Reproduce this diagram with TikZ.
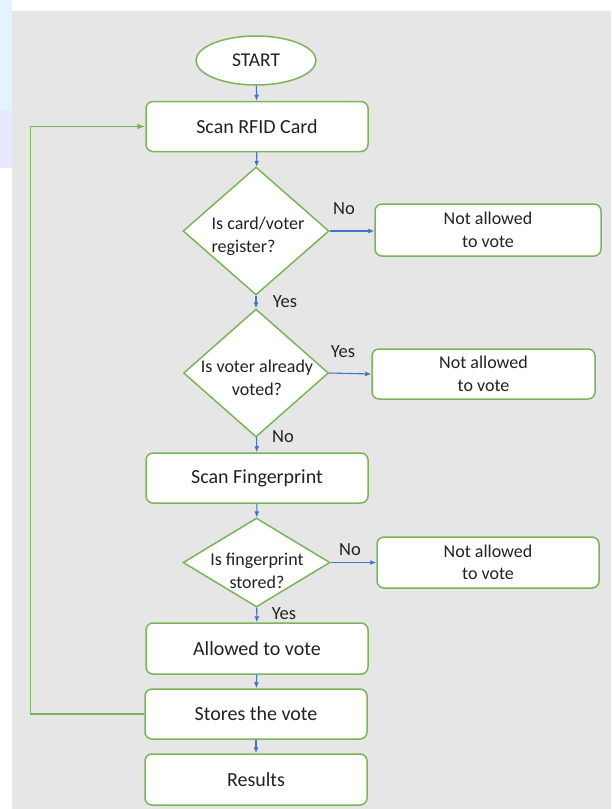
\documentclass[tikz,border=0pt]{standalone}
\usepackage{fontspec}
\setmainfont{Carlito}
\usetikzlibrary{shapes.geometric,arrows.meta}

\definecolor{boxgreen}{HTML}{7AB55B}
\definecolor{flowblue}{HTML}{4472C4}
\definecolor{panelgray}{HTML}{E6E6E6}
\definecolor{inkgray}{HTML}{222222}

\tikzset{
  procbox/.style={draw=boxgreen, line width=1.5pt, fill=white, rounded corners=7pt,
    minimum width=222pt, minimum height=50pt, inner sep=0pt, text=inkgray,
    font=\fontsize{20}{24}\selectfont},
  denybox/.style={procbox, minimum height=51pt, align=center,
    font=\fontsize{18}{22.5}\selectfont},
  decision/.style={diamond, draw=boxgreen, line width=1.5pt, fill=white, inner sep=0pt},
  qtext/.style={align=left, text=inkgray, inner sep=0pt, font=\fontsize{18}{22.5}\selectfont},
  answer/.style={text=inkgray, inner sep=0pt, font=\fontsize{18.5}{22}\selectfont},
  flow/.style={draw=flowblue, line width=1.1pt, -{Latex[length=6pt,width=5pt]}},
  backflow/.style={draw=boxgreen, line width=1.5pt, -{Latex[length=8pt,width=6pt]}}
}

\begin{document}
\begin{tikzpicture}[x=1pt, y=-1pt]
  \useasboundingbox (0,0) rectangle (611,809);
  % page behind the chart
  \fill[cyan!12] (0,0) rectangle (12,110);
  \fill[blue!9] (0,110) rectangle (12,168);
  \fill[panelgray] (12,11) rectangle (611,809);

  % main column
  \node[ellipse, draw=boxgreen, line width=1.5pt, fill=white, minimum width=120pt,
    minimum height=49pt, inner sep=0pt, text=inkgray,
    font=\fontsize{19.5}{24}\selectfont] (start) at (256,60.5) {START};
  \node[procbox] (scan) at (257,126.5) {Scan RFID Card};

  \node[decision, minimum width=146pt, minimum height=128pt] (q1) at (256,231) {};
  \node[qtext] (q1txt) at (258,236.5) {Is card/voter\\register?};

  \node[decision, minimum width=145pt, minimum height=128pt] (q2) at (256,373) {};
  \node[qtext, align=center] (q2txt) at (257,378) {Is voter already\\voted?};

  \node[procbox] (finger) at (257,478) {Scan Fingerprint};

  \node[decision, minimum width=147pt, minimum height=89pt] (q3) at (256.5,562.5) {};
  \node[qtext, align=center] (q3txt) at (257,571) {Is fingerprint\\stored?};

  \node[procbox, minimum height=51pt] (allow) at (257,648.5) {Allowed to vote};
  \node[procbox] (store) at (256,714) {Stores the vote};
  \node[procbox, minimum height=51pt] (result) at (256,779.5) {Results};

  % refusals on the right
  \node[denybox, minimum width=226pt, minimum height=52pt] (deny1) at (488,230) {Not allowed\\to vote};
  \node[denybox, minimum width=223pt, minimum height=50pt] (deny2) at (483.5,374) {Not allowed\\to vote};
  \node[denybox] (deny3) at (488,562.5) {Not allowed\\to vote};

  % answers
  \node[answer] (no1) at (344,209) {No};
  \node[answer] (yes1) at (285,302) {Yes};
  \node[answer] (yes2) at (343,352) {Yes};
  \node[answer] (no2) at (283,437) {No};
  \node[answer] (no3) at (350,550) {No};
  \node[answer] (yes3) at (284,614) {Yes};

  \draw[flow] (start) -- (scan);
  \draw[flow] (scan) -- (q1);
  \draw[flow] (q1) -- (q2);
  \draw[flow] (q2) -- (finger);
  \draw[flow] (finger) -- (q3);
  \draw[flow] (q3) -- (allow);
  \draw[flow] (allow) -- (store);
  \draw[flow] (store) -- (result);

  \draw[flow] (q1.east) -- (q1.east -| deny1.west);
  \draw[flow] (q2.east) -- (deny2.west);
  \draw[flow] (q3.east) -- (deny3.west);

  % back to the card reader
  \coordinate (back) at (30.5,714);
  \draw[backflow] (store.west) -- (back) |- (scan.west);
\end{tikzpicture}
\end{document}
